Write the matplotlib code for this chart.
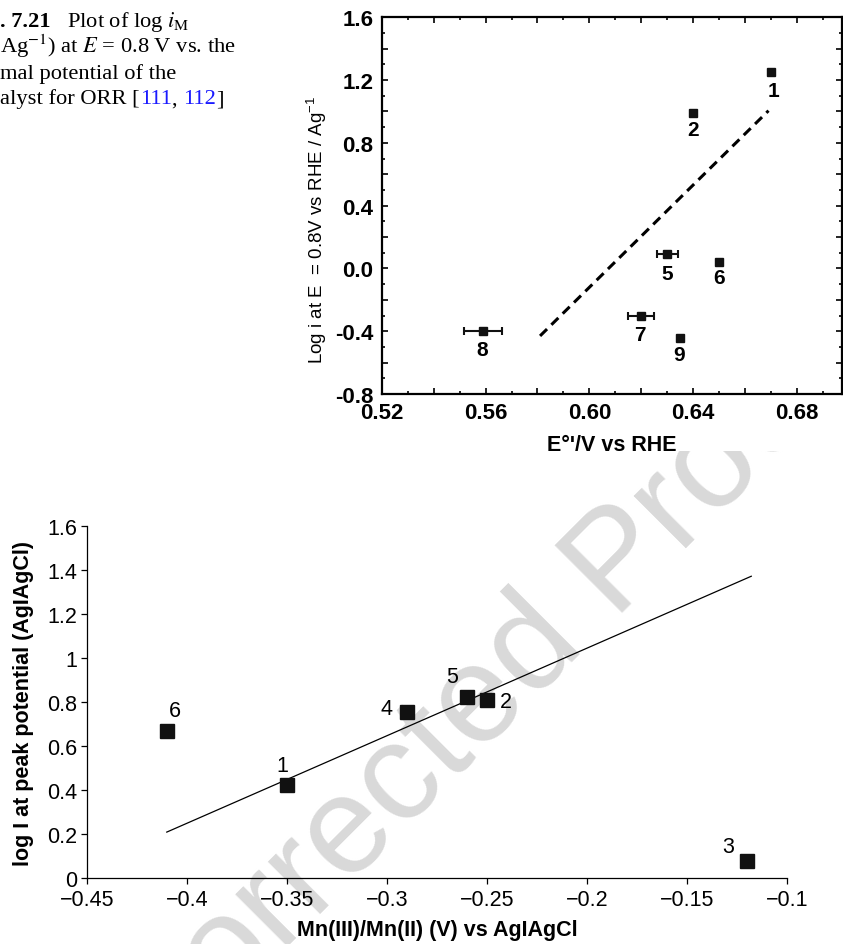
import numpy as np
import matplotlib
matplotlib.use("Agg")
import matplotlib.pyplot as plt
from matplotlib.patches import Rectangle
from matplotlib.ticker import MultipleLocator, FuncFormatter

# upper panel: log i at E = 0.8 V vs formal potential (V vs RHE)
top_ids = ["1", "2", "5", "6", "7", "8", "9"]
top_E = [0.670, 0.640, 0.630, 0.650, 0.620, 0.559, 0.635]
top_logi = [1.25, 0.99, 0.09, 0.04, -0.30, -0.40, -0.445]
top_xerr = [0, 0, 0.004, 0, 0.005, 0.0073, 0]
top_fit_x = [0.581, 0.669]
top_fit_y = [-0.43, 1.005]

# lower panel: log I at peak potential vs Mn(III)/Mn(II) (V vs Ag|AgCl)
bot_ids = ["6", "1", "4", "5", "2", "3"]
bot_E = [-0.41, -0.35, -0.29, -0.26, -0.25, -0.12]
bot_logI = [0.67, 0.425, 0.755, 0.825, 0.81, 0.08]
bot_fit_x = [-0.41, -0.118]
bot_fit_y = [0.21, 1.373]

# label offsets (points) from each marker
top_off = {"1": (1.7, -13), "2": (0, -12), "5": (0, -13.5), "6": (0, -11),
           "7": (-1.2, -14), "8": (-0.4, -13), "9": (-0.7, -12)}
bot_off = {"6": (5.8, 14.4), "1": (-3.4, 14.2), "4": (-14.4, 2.4),
           "5": (-10.8, 14.7), "2": (13.9, -0.7), "3": (-13.9, 10.1)}

W, H = 843, 945
fig = plt.figure(figsize=(W / 100, H / 100), dpi=100)
fig.patch.set_facecolor("white")


def box(l, t, r, b):
    return [l / W, 1 - b / H, (r - l) / W, (b - t) / H]


sans = ["Liberation Sans", "DejaVu Sans"]
serif = ["Liberation Serif", "DejaVu Serif"]

# watermark behind everything; the upper figure (a pasted picture) hides part of it
fig.text(425 / W, 1 - 758 / H, "Uncorrected Proof", rotation=45, rotation_mode="anchor",
         ha="center", va="center", fontsize=100, color="#d9d9d9", family=sans, zorder=-5)
fig.patches.append(Rectangle((290 / W, 1 - 452 / H), (W - 290) / W, 452 / H,
                             transform=fig.transFigure, facecolor="white",
                             edgecolor="none", zorder=-4))

# ---- upper chart ----
ax1 = fig.add_axes(box(381.7, 18.3, 842, 395))
ax1.patch.set_visible(False)
ax1.set_xlim(0.52, 0.6973)
ax1.set_ylim(-0.8, 1.6)
ax1.plot(top_fit_x, top_fit_y, color="black", lw=2.2, linestyle=(0, (3.2, 2.0)))
ax1.errorbar(top_E, top_logi, xerr=top_xerr, fmt="s", color="#111111", ms=6,
             ecolor="#111111", elinewidth=1.5, capsize=3, capthick=1.5)
for lab, x, y in zip(top_ids, top_E, top_logi):
    dx, dy = top_off[lab]
    ax1.annotate(lab, (x, y), xytext=(dx, dy), textcoords="offset points",
                 ha="center", va="center", fontsize=15, fontweight="bold", family=sans)

ax1.xaxis.set_major_locator(MultipleLocator(0.02))
ax1.xaxis.set_minor_locator(MultipleLocator(0.01))
ax1.yaxis.set_major_locator(MultipleLocator(0.2))
ax1.yaxis.set_minor_locator(MultipleLocator(0.1))
ax1.xaxis.set_major_formatter(FuncFormatter(
    lambda v, p: f"{v:.2f}" if abs(round((v - 0.52) / 0.04) - (v - 0.52) / 0.04) < 1e-6 else ""))
ax1.yaxis.set_major_formatter(FuncFormatter(
    lambda v, p: f"{v:.1f}" if abs(round((v + 0.8) / 0.4) - (v + 0.8) / 0.4) < 1e-6 else ""))
ax1.tick_params(which="both", direction="in", top=True, right=True, width=1.2)
ax1.tick_params(which="major", length=4.5, pad=6)
ax1.tick_params(which="minor", length=2.5)
for t in ax1.get_xticklabels() + ax1.get_yticklabels():
    t.set_fontsize(16)
    t.set_fontweight("bold")
    t.set_family(sans)
for s in ax1.spines.values():
    s.set_linewidth(1.6)
ax1.set_xlabel("E\u00b0'/V vs RHE", fontsize=15.5, fontweight="bold", family=sans, labelpad=8)
ax1.set_ylabel(r"Log i at E  = 0.8V vs RHE / Ag$^{\mathregular{-1}}$", fontsize=13.5,
               family=sans)
ax1.yaxis.set_label_coords(-0.115, 0.438)

# ---- lower chart ----
ax2 = fig.add_axes(box(86.7, 527.3, 787.3, 879.3))
ax2.patch.set_visible(False)
ax2.set_xlim(-0.45, -0.1)
ax2.set_ylim(0, 1.6)
ax2.plot(bot_fit_x, bot_fit_y, color="black", lw=0.9)
ax2.plot(bot_E, bot_logI, "s", color="#111111", ms=10)
for lab, x, y in zip(bot_ids, bot_E, bot_logI):
    dx, dy = bot_off[lab]
    ax2.annotate(lab, (x, y), xytext=(dx, dy), textcoords="offset points",
                 ha="center", va="center", fontsize=15.5, family=sans)
ax2.spines["top"].set_visible(False)
ax2.spines["right"].set_visible(False)
for s in ax2.spines.values():
    s.set_linewidth(0.9)
ax2.xaxis.set_major_locator(MultipleLocator(0.05))
ax2.yaxis.set_major_locator(MultipleLocator(0.2))
ax2.xaxis.set_major_formatter(FuncFormatter(lambda v, p: f"{round(v, 2):g}".replace("-", "\u2212")))
ax2.yaxis.set_major_formatter(FuncFormatter(lambda v, p: f"{round(v, 1):g}"))
ax2.tick_params(axis="x", direction="out", length=4, width=0.9, pad=4, labelsize=15.5)
ax2.tick_params(axis="y", direction="out", length=4, width=0.9, pad=3, labelsize=15.5)
for t in ax2.get_xticklabels() + ax2.get_yticklabels():
    t.set_family(sans)
ax2.set_xlabel("Mn(III)/Mn(II) (V) vs AgIAgCl", fontsize=15.5, fontweight="bold", family=sans,
               labelpad=6)
ax2.set_ylabel("log I at peak potential (AgIAgCl)", fontsize=15.5, fontweight="bold",
               family=sans, labelpad=9)

# ---- caption (cut at the left edge of the page) ----
cap = dict(fontsize=16.2, family=serif, math_fontfamily="stix", va="baseline", ha="left")
fig.text(0.5 / W, 1 - 26.7 / H, ". 7.21", fontweight="bold", **cap)
fig.text(66.7 / W, 1 - 26.7 / H, r"Plot of log $i_{\mathrm{M}}$", **cap)
fig.text(0.5 / W, 1 - 53.3 / H, r"Ag$^{-1}$) at $E$ = 0.8 V vs. the", **cap)
fig.text(0.5 / W, 1 - 78.8 / H, "mal potential of the", **cap)

renderer = fig.canvas.get_renderer()
xpos = 0.5
for piece, col in [("alyst for ORR [", "black"), ("111", "#1a1aff"), (", ", "black"),
                   ("112", "#1a1aff"), ("]", "black")]:
    t = fig.text(xpos / W, 1 - 104.3 / H, piece, color=col, **cap)
    xpos = t.get_window_extent(renderer).x1

fig.savefig("out.png", dpi=100)
